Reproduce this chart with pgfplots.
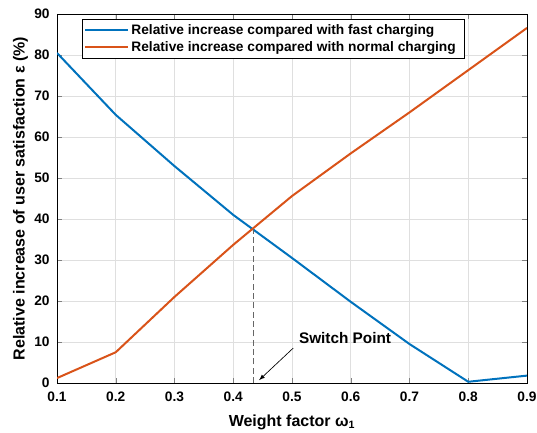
\documentclass[border=0pt]{standalone}
\usepackage{fontspec}
\setmainfont{Liberation Sans}
\usepackage{pgfplots}
\pgfplotsset{compat=1.18}
\definecolor{mblue}{RGB}{0,114,189}
\definecolor{morange}{RGB}{217,83,25}
\begin{document}
\begin{tikzpicture}
\begin{axis}[
  scale only axis,
  width=352.5pt, height=276.75pt,
  xmin=0.1, xmax=0.9, ymin=0, ymax=90,
  xtick={0.1,0.2,0.3,0.4,0.5,0.6,0.7,0.8,0.9},
  xticklabels={\textbf{0.1},\textbf{0.2},\textbf{0.3},\textbf{0.4},\textbf{0.5},\textbf{0.6},\textbf{0.7},\textbf{0.8},\textbf{0.9}},
  ytick={0,10,20,30,40,50,60,70,80,90},
  yticklabels={\textbf{0},\textbf{10},\textbf{20},\textbf{30},\textbf{40},\textbf{50},\textbf{60},\textbf{70},\textbf{80},\textbf{90}},
  tick label style={font=\bfseries\fontsize{10.3}{12}\selectfont},
  xticklabel style={yshift=-3pt},
  yticklabel style={xshift=-2pt},
  xlabel={\bfseries Weight factor ω\textsubscript{1}},
  ylabel={\bfseries Relative increase of user satisfaction ε (\%)},
  label style={font=\fontsize{12}{14}\selectfont},
  xlabel style={yshift=-3pt},
  ylabel style={yshift=-2pt},
  grid=major,
  major grid style={gray!25},
  axis line style={black, line width=0.6pt},
  tick align=inside,
  major tick length=4pt,
  legend style={at={(0.053,0.986)}, anchor=north west, font=\bfseries\fontsize{10.3}{12}\selectfont, draw=black, line width=0.5pt, inner sep=1.5pt, row sep=0pt},
  legend cell align=left,
  legend image code/.code={\draw[#1, line width=1.5pt] (0cm,0cm) -- (1.12cm,0cm);},
]
\addplot[mblue, line width=1.5pt] coordinates {
(0.1,80.5) (0.2,65.4) (0.3,52.9) (0.4,41.0) (0.5,30.5) (0.6,19.8) (0.7,9.5) (0.8,0.3) (0.9,1.8)};
\addlegendentry{Relative increase compared with fast charging\hspace*{3pt}}
\addplot[morange, line width=1.5pt] coordinates {
(0.1,1.2) (0.2,7.5) (0.3,21.0) (0.4,33.7) (0.5,45.6) (0.6,56.0) (0.7,66.0) (0.8,76.3) (0.9,86.6)};
\addlegendentry{Relative increase compared with normal charging\hspace*{3pt}}
\addplot[black!60, dash pattern=on 4.5pt off 2.5pt, line width=0.6pt, forget plot] coordinates {(0.435,0) (0.435,37.6)};
\addplot[black, -latex, line width=0.5pt, forget plot] coordinates {(0.502,8.5) (0.444,0.7)};
\node[anchor=west, font=\bfseries\fontsize{11.5}{13}\selectfont] at (axis cs:0.504,11) {Switch Point};
\end{axis}
\pgfresetboundingbox
\path ([shift={(-42.75pt,-37.5pt)}]current axis.south west) rectangle ([shift={(7.5pt,10.5pt)}]current axis.north east);
\end{tikzpicture}
\end{document}
